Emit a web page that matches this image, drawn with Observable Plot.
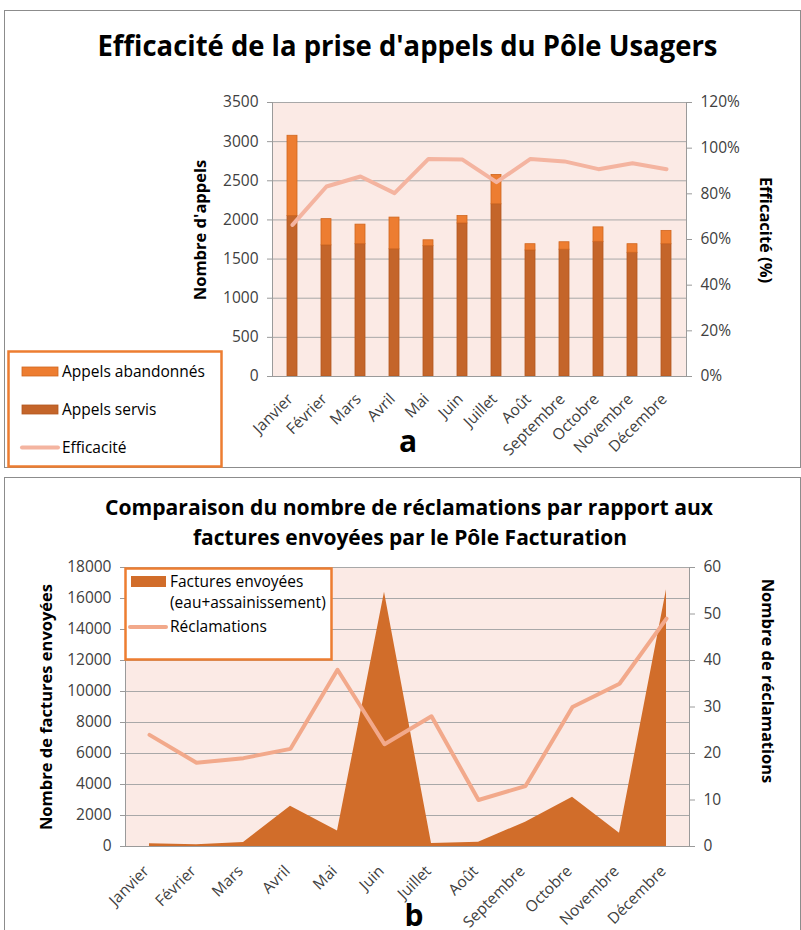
<!DOCTYPE html>
<html><head><meta charset="utf-8">
<script src="https://cdn.jsdelivr.net/npm/d3@7"></script>
<script src="https://cdn.jsdelivr.net/npm/@observablehq/plot@0.6"></script>
<style>
body{margin:0;background:#fff;}
#page{position:relative;width:801px;height:930px;overflow:hidden;background:#fff;font-family:"Open Sans",sans-serif;}
#page > svg{position:absolute;left:0;}
</style></head><body><div id="page"></div>
<script>
// ---------- DATA ----------
const months = ["Janvier","Février","Mars","Avril","Mai","Juin","Juillet","Août","Septembre","Octobre","Novembre","Décembre"];
const appelsServis = [2050,1675,1690,1625,1665,1955,2200,1610,1620,1720,1580,1690];
const appelsAbandonnes = [1025,335,250,405,75,95,375,80,95,185,110,170];
const efficacite = [0.664,0.832,0.876,0.803,0.953,0.950,0.851,0.953,0.942,0.908,0.934,0.908];
const factures = [180,120,260,2600,1000,16400,200,280,1570,3180,860,16560];
const reclamations = [24,18,19,21,38,22,28,10,13,30,35,49];
const ticksAppels = [0,500,1000,1500,2000,2500,3000,3500];
const ticksEff = [0,0.2,0.4,0.6,0.8,1.0,1.2];
const ticksFactures = [0,2000,4000,6000,8000,10000,12000,14000,16000,18000];
const ticksRecl = [0,10,20,30,40,50,60];

// ---------- TABLES ----------
const calls = months.map((m,i)=>({month:m, servis:appelsServis[i], total:appelsServis[i]+appelsAbandonnes[i], eff:efficacite[i]}));
const bills = months.map((m,i)=>({month:m, factures:factures[i], recl:reclamations[i]}));

const BG = "#FBEAE5", GRID = "#A8A8A8", AX = "#9A9A9A";
const C_SERV = "#C4652A", C_ABAN = "#ED7D31", C_LINE1 = "#F4B4A0", C_AREA = "#D16D2A", C_LINE2 = "#F2A98B";
const baseStyle = {fontFamily:"Open Sans", fontSize:"15.5px", color:"#404040", background:"transparent", overflow:"visible"};
const page = document.getElementById("page");
function place(svg, top){ svg.style.position="absolute"; svg.style.left="0px"; svg.style.top=top+"px"; page.appendChild(svg); }

// ---------- CHART A ----------
const dimA = {width:801, height:380, marginTop:42, marginBottom:64, marginLeft:272, marginRight:115};
const plotA = Plot.plot({
  ...dimA, style:baseStyle,
  x:{domain:months, paddingInner:0.72, paddingOuter:0.36, label:null},
  y:{domain:[0,3500], label:null},
  marks:[
    Plot.frame({fill:BG, stroke:null}),
    Plot.ruleY(ticksAppels.slice(1), {stroke:GRID, strokeWidth:1}),
    Plot.barY(calls, {x:"month", y1:0, y2:"servis", fill:C_SERV, stroke:"#B3581F", strokeWidth:0.8}),
    Plot.barY(calls, {x:"month", y1:"servis", y2:"total", fill:C_ABAN, stroke:"#D0661F", strokeWidth:0.8}),
    Plot.ruleY([0], {stroke:AX}),
    Plot.frame({anchor:"left", stroke:AX}),
    Plot.axisY({ticks:ticksAppels, tickSize:5, tickPadding:9, tickFormat:d=>String(d), stroke:AX}),
    Plot.axisX({tickSize:0, tickRotate:-45, tickPadding:20, dx:-2})
  ]
});
place(plotA, 60);

const plotB = Plot.plot({
  ...dimA, style:baseStyle,
  x:{type:"point", domain:months, padding:0.5, axis:null},
  y:{domain:[0,1.2], label:null},
  marks:[
    Plot.frame({anchor:"right", stroke:AX}),
    Plot.lineY(calls, {x:"month", y:"eff", stroke:C_LINE1, strokeWidth:4}),
    Plot.axisY({anchor:"right", ticks:ticksEff, tickSize:5, tickPadding:9, tickFormat:d3.format(".0%"), stroke:AX})
  ]
});
place(plotB, 60);

// ---------- CHART B ----------
const dimC = {width:801, height:390, marginTop:27, marginBottom:84, marginLeft:125, marginRight:112};
const plotC = Plot.plot({
  ...dimC, style:baseStyle,
  x:{type:"point", domain:months, padding:0.5, label:null},
  y:{domain:[0,18000], label:null},
  marks:[
    Plot.frame({fill:BG, stroke:null}),
    Plot.ruleY(ticksFactures.slice(1), {stroke:GRID, strokeWidth:1}),
    Plot.areaY(bills, {x:"month", y:"factures", fill:C_AREA}),
    Plot.ruleY([0], {stroke:AX}),
    Plot.frame({anchor:"left", stroke:AX}),
    Plot.axisY({ticks:ticksFactures, tickSize:5, tickPadding:9, tickFormat:d=>String(d), stroke:AX}),
    Plot.axisX({tickSize:0, tickRotate:-45, tickPadding:22, dx:-3})
  ]
});
place(plotC, 540);

const plotD = Plot.plot({
  ...dimC, style:baseStyle,
  x:{type:"point", domain:months, padding:0.5, axis:null},
  y:{domain:[0,60], label:null},
  marks:[
    Plot.frame({anchor:"right", stroke:AX}),
    Plot.lineY(bills, {x:"month", y:"recl", stroke:C_LINE2, strokeWidth:4}),
    Plot.axisY({anchor:"right", ticks:ticksRecl, tickSize:5, tickPadding:9, tickFormat:d=>String(d), stroke:AX})
  ]
});
place(plotD, 540);

// ---------- TEXT, LEGENDS, FRAMES ----------
const NS = "http://www.w3.org/2000/svg";
const ov = document.createElementNS(NS, "svg");
ov.setAttribute("width", 801); ov.setAttribute("height", 930);
ov.style.position="absolute"; ov.style.left="0px"; ov.style.top="0px";
ov.style.fontFamily = "'Open Sans', sans-serif";
page.appendChild(ov);
function el(tag, attrs, text){ const e=document.createElementNS(NS,tag); for(const k in attrs) e.setAttribute(k, attrs[k]); if(text!=null) e.textContent=text; ov.appendChild(e); return e; }

// panel frames
el("rect",{x:4.5,y:10.5,width:796,height:457,fill:"none",stroke:"#8C8C8C","stroke-width":1});
el("rect",{x:4.5,y:477.5,width:796,height:470,fill:"none",stroke:"#8C8C8C","stroke-width":1});

// titles
el("text",{x:407.5,y:56,"text-anchor":"middle","font-size":29,"font-weight":"bold",fill:"#000",textLength:620,lengthAdjust:"spacingAndGlyphs"},"Efficacité de la prise d'appels du Pôle Usagers");
el("text",{x:409,y:515,"text-anchor":"middle","font-size":21,"font-weight":"bold",fill:"#000",textLength:608,lengthAdjust:"spacingAndGlyphs"},"Comparaison du nombre de réclamations par rapport aux");
el("text",{x:410,y:545,"text-anchor":"middle","font-size":21,"font-weight":"bold",fill:"#000",textLength:434,lengthAdjust:"spacingAndGlyphs"},"factures envoyées par le Pôle Facturation");

// axis titles
el("text",{transform:"translate(199,230) rotate(-90)","text-anchor":"middle","dominant-baseline":"central","font-size":16.5,"font-weight":"bold",fill:"#000"},"Nombre d'appels");
el("text",{transform:"translate(766,230) rotate(90)","text-anchor":"middle","dominant-baseline":"central","font-size":16.5,"font-weight":"bold",fill:"#000"},"Efficacité (%)");
el("text",{transform:"translate(45,707) rotate(-90)","text-anchor":"middle","dominant-baseline":"central","font-size":16.5,"font-weight":"bold",fill:"#000"},"Nombre de factures envoyées");
el("text",{transform:"translate(768,681) rotate(90)","text-anchor":"middle","dominant-baseline":"central","font-size":16.5,"font-weight":"bold",fill:"#000"},"Nombre de réclamations");

// panel letters
el("text",{x:408,y:452,"text-anchor":"middle","font-size":30,"font-weight":"bold",fill:"#000"},"a");
el("text",{x:414,y:926,"text-anchor":"middle","font-size":30,"font-weight":"bold",fill:"#000"},"b");

// legend a
el("rect",{x:8.5,y:351.5,width:213,height:115,fill:"#fff",stroke:C_ABAN,"stroke-width":2.5});
el("rect",{x:22,y:367,width:36,height:9,fill:C_ABAN,stroke:"#D0661F","stroke-width":0.8});
el("text",{x:62,y:377,"font-size":15.5,fill:"#000"},"Appels abandonnés");
el("rect",{x:22,y:405,width:36,height:9,fill:C_SERV,stroke:"#B3581F","stroke-width":0.8});
el("text",{x:62,y:415,"font-size":15.5,fill:"#000"},"Appels servis");
el("line",{x1:22,x2:58,y1:447.5,y2:447.5,stroke:C_LINE1,"stroke-width":4,"stroke-linecap":"round"});
el("text",{x:62,y:453,"font-size":15.5,fill:"#000"},"Efficacité");

// legend b
el("rect",{x:125.5,y:568.5,width:206,height:91,fill:"#fff",stroke:C_ABAN,"stroke-width":2.5});
el("rect",{x:131,y:576,width:35,height:11,fill:C_AREA});
el("text",{x:170,y:587,"font-size":15.5,fill:"#000"},"Factures envoyées");
el("text",{x:170,y:608,"font-size":15.5,fill:"#000"},"(eau+assainissement)");
el("line",{x1:130,x2:166,y1:627,y2:627,stroke:C_LINE2,"stroke-width":4,"stroke-linecap":"round"});
el("text",{x:170,y:632,"font-size":15.5,fill:"#000"},"Réclamations");
</script></body></html>
